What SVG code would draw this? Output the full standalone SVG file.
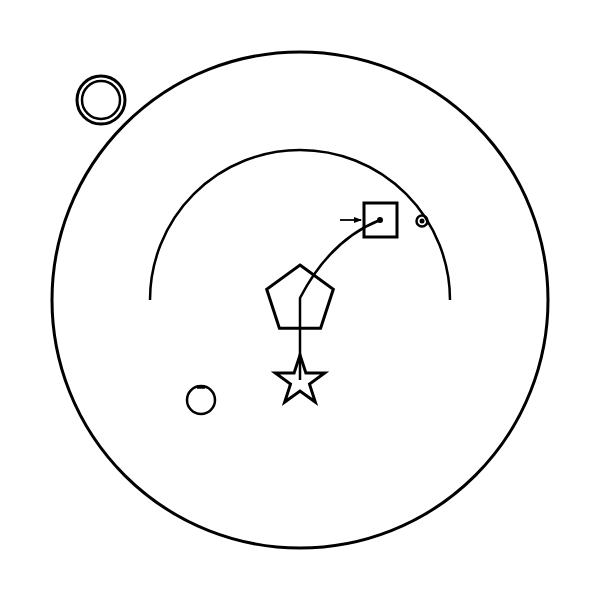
<svg xmlns="http://www.w3.org/2000/svg" width="600" height="600" viewBox="0 0 600 600">
<style>
.s{fill:none;stroke:#000;stroke-width:3}
.t{fill:none;stroke:#000;stroke-width:2.5}
.w{fill:#fff;stroke:#000;stroke-width:3}
</style>
<defs>
<marker id="ah" markerWidth="8" markerHeight="6" refX="7" refY="3" orient="auto" markerUnits="userSpaceOnUse">
<path d="M0,0 L8,3 L0,6 Z" fill="#000"/>
</marker>
</defs>
<rect width="600" height="600" fill="#fff"/>
<g id="boundary"><circle cx="300" cy="300" r="248" class="s" stroke-width="3.5"/></g>
<g id="orbit"><path d="M150,300 A150,150 0 0 1 450,300" class="t"/></g>
<g id="ring"><circle cx="101" cy="100" r="24" class="s"/><circle cx="101" cy="100" r="19" class="t"/></g>
<g id="pentagon"><polygon points="300,265 333.3,289.2 320.6,328.3 279.4,328.3 266.7,289.2" class="w"/></g>
<g id="star"><polygon points="300,355 305.9,372.9 324.7,373 309.5,384.1 315.3,402 300,391 284.7,402 290.5,384.1 275.3,373 294.1,372.9" class="w"/></g>
<g id="square"><rect x="364" y="203" width="33" height="34" class="s"/><circle cx="380" cy="220" r="3" fill="#000"/></g>
<g id="node-small"><circle cx="422" cy="221" r="5.5" class="t"/><circle cx="422" cy="221" r="2.5" fill="#000"/></g>
<g id="node-bottom"><circle cx="201" cy="400" r="14" class="t"/><path d="M197,387 L205,387" stroke="#000" stroke-width="3.5"/></g>
<g id="connectors">
<path d="M300,380 L300,298 Q330,240 380,220" class="t"/>
<line x1="340" y1="220" x2="361" y2="220" stroke="#000" stroke-width="1.8" marker-end="url(#ah)"/>
</g>
</svg>
